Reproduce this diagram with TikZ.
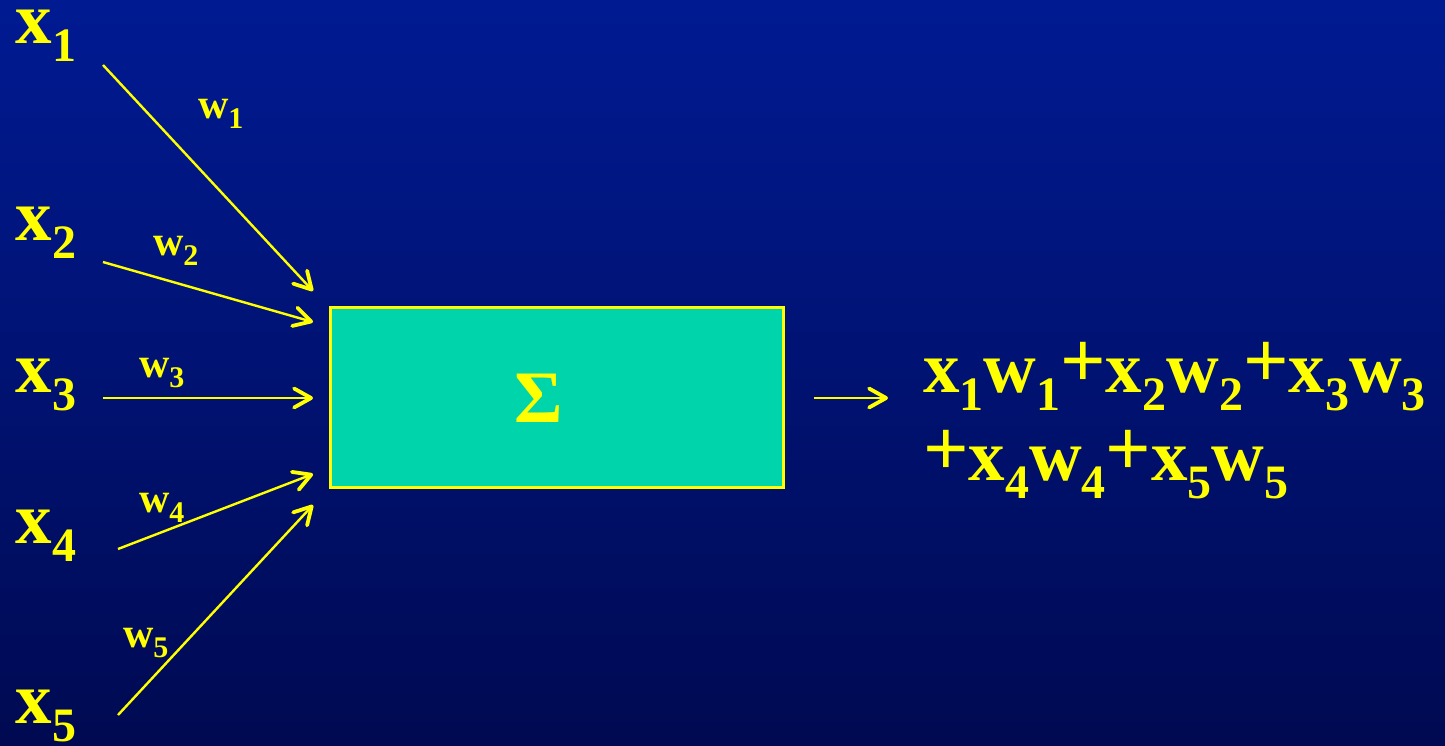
\documentclass[tikz,border=0pt]{standalone}
\usepackage{fontspec}
\setmainfont{Liberation Serif}
\usetikzlibrary{arrows.meta}
\definecolor{bgtop}{RGB}{0,26,146}
\definecolor{bgbot}{RGB}{0,10,82}
\definecolor{boxfill}{RGB}{0,212,170}
\definecolor{ylw}{RGB}{255,255,0}
\newcommand\bigsub[2]{{\fontsize{73}{73}\selectfont\bfseries #1\raisebox{-18pt}{\fontsize{48}{48}\selectfont #2}}}
\newcommand\smallsub[2]{{\fontsize{42}{42}\selectfont\bfseries #1\raisebox{-10pt}{\fontsize{30}{30}\selectfont #2}}}
\newcommand\plussign{\raisebox{5pt}{\fontsize{80}{80}\selectfont +}}
\tikzset{
  lab/.style={text=ylw, inner sep=0pt, outer sep=0pt, anchor=base west},
  conn/.style={draw=ylw, line width=2.4pt, -{Straight Barb[length=17pt,width=19pt,line width=3.8pt,round]}},
  sumbox/.style={draw=ylw, line width=3pt, fill=boxfill, minimum width=453pt, minimum height=180pt, inner sep=0pt}
}
\begin{document}
\begin{tikzpicture}[x=1pt,y=-1pt]
\shade[top color=bgtop, bottom color=bgbot] (0,0) rectangle (1445,745);
\useasboundingbox (0,0) rectangle (1445,745);

% input labels
\node[lab] (x1) at (16,43) {\bigsub{x}{1}};
\node[lab] (x2) at (16,240) {\bigsub{x}{2}};
\node[lab] (x3) at (16,392) {\bigsub{x}{3}};
\node[lab] (x4) at (16,543) {\bigsub{x}{4}};
\node[lab] (x5) at (16,723) {\bigsub{x}{5}};

% weight labels
\node[lab] (w1) at (198,118) {\smallsub{w}{1}};
\node[lab] (w2) at (153,255) {\smallsub{w}{2}};
\node[lab] (w3) at (139,377) {\smallsub{w}{3}};
\node[lab] (w4) at (139,512) {\smallsub{w}{4}};
\node[lab] (w5) at (123,647) {\smallsub{w}{5}};

% summation box
\node[sumbox] (sum) at (557,397.5) {};
\node[lab, anchor=base] (sigma) at (539,422) {\fontsize{74}{74}\selectfont\bfseries \char"03A3};

% connector end points
\coordinate (s1) at (103,65);   \coordinate (t1) at (313,291);
\coordinate (s2) at (103,262);  \coordinate (t2) at (313,322);
\coordinate (s3) at (103,398);  \coordinate (t3) at (313,398);
\coordinate (s4) at (118,549);  \coordinate (t4) at (313,474);
\coordinate (s5) at (118,715);  \coordinate (t5) at (313,505);
\coordinate (so) at (814,398);  \coordinate (to) at (888,398);

\draw[conn] (s1) -- (t1);
\draw[conn] (s2) -- (t2);
\draw[conn] (s3) -- (t3);
\draw[conn] (s4) -- (t4);
\draw[conn] (s5) -- (t5);
\draw[conn] (so) -- (to);

% output expression
\node[lab] (out1) at (923,392) {\fontsize{73}{73}\selectfont\bfseries \bigsub{x}{1}\bigsub{w}{1}\plussign\bigsub{x}{2}\bigsub{w}{2}\plussign\bigsub{x}{3}\bigsub{w}{3}};
\node[lab] (out2) at (923,480) {\fontsize{73}{73}\selectfont\bfseries \plussign\bigsub{x}{4}\bigsub{w}{4}\plussign\bigsub{x}{5}\bigsub{w}{5}};
\end{tikzpicture}
\end{document}
